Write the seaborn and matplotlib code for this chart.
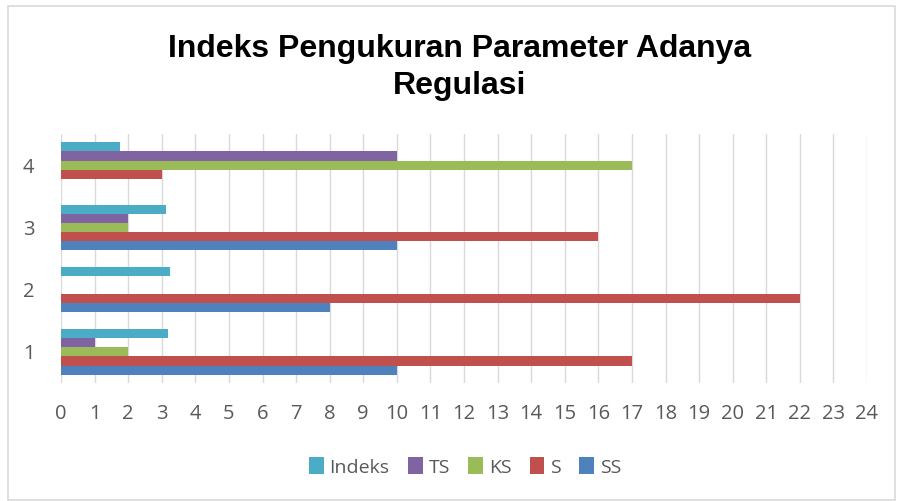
import pandas as pd
import matplotlib.pyplot as plt
import seaborn as sns
from matplotlib.patches import Rectangle

# Data
kategori = ['1', '2', '3', '4']
ss = [10, 8, 10, 0]
s = [17, 22, 16, 3]
ks = [2, 0, 2, 17]
ts = [1, 0, 2, 10]
indeks = [3.18, 3.26, 3.13, 1.76]

seri = ['Indeks', 'TS', 'KS', 'S', 'SS']
warna = ['#4BACC6', '#8064A2', '#9BBB59', '#C0504D', '#4F81BD']

df = pd.DataFrame({'Kategori': kategori, 'SS': ss, 'S': s, 'KS': ks, 'TS': ts, 'Indeks': indeks})
df_long = df.melt(id_vars='Kategori', var_name='Seri', value_name='Nilai')

sns.set_style('white')
plt.rcParams['font.family'] = ['Open Sans', 'DejaVu Sans']

fig = plt.figure(figsize=(8.97, 5.01), dpi=100)
ax = fig.add_axes([61 / 897, 1 - 383 / 501, (867 - 61) / 897, 249 / 501])

sns.barplot(data=df_long, x='Nilai', y='Kategori', hue='Seri',
            order=kategori[::-1], hue_order=seri, palette=warna,
            orient='h', width=0.73, saturation=1, linewidth=0, ax=ax)

ax.set_xlim(0, 24)
ax.set_ylim(3.5, -0.5)
ax.set_xticks(range(0, 25))
ax.xaxis.grid(True, color='#D9D9D9', linewidth=1)
ax.set_axisbelow(True)
for sp in ax.spines.values():
    sp.set_visible(False)
ax.tick_params(axis='x', length=0, pad=15, labelsize=14.5, labelcolor='#595959')
ax.tick_params(axis='y', length=0, pad=19, labelsize=14.5, labelcolor='#595959')
ax.set_xlabel('')
ax.set_ylabel('')

ax.legend(loc='center', bbox_to_anchor=(465 / 897, 1 - 467 / 501),
          bbox_transform=fig.transFigure, ncol=5, frameon=False,
          fontsize=14, labelcolor='#595959', handlelength=0.75,
          handleheight=0.95, handletextpad=0.3, columnspacing=0.95)

# Title, two lines placed by baseline
fig.text(460 / 897, 1 - 57 / 501, 'Indeks Pengukuran Parameter Adanya',
         ha='center', va='baseline', fontsize=23, fontweight='bold',
         family='Liberation Sans', color='black')
fig.text(460 / 897, 1 - 94 / 501, 'Regulasi',
         ha='center', va='baseline', fontsize=23, fontweight='bold',
         family='Liberation Sans', color='black')

fig.patches.append(Rectangle((8 / 897, 0.002), 1 - 8 / 897 - 0.002, 1 - 6 / 501 - 0.002,
                             transform=fig.transFigure, fill=False,
                             edgecolor='#D9D9D9', linewidth=1.2))

fig.savefig('out.png', dpi=100)
plt.close()
